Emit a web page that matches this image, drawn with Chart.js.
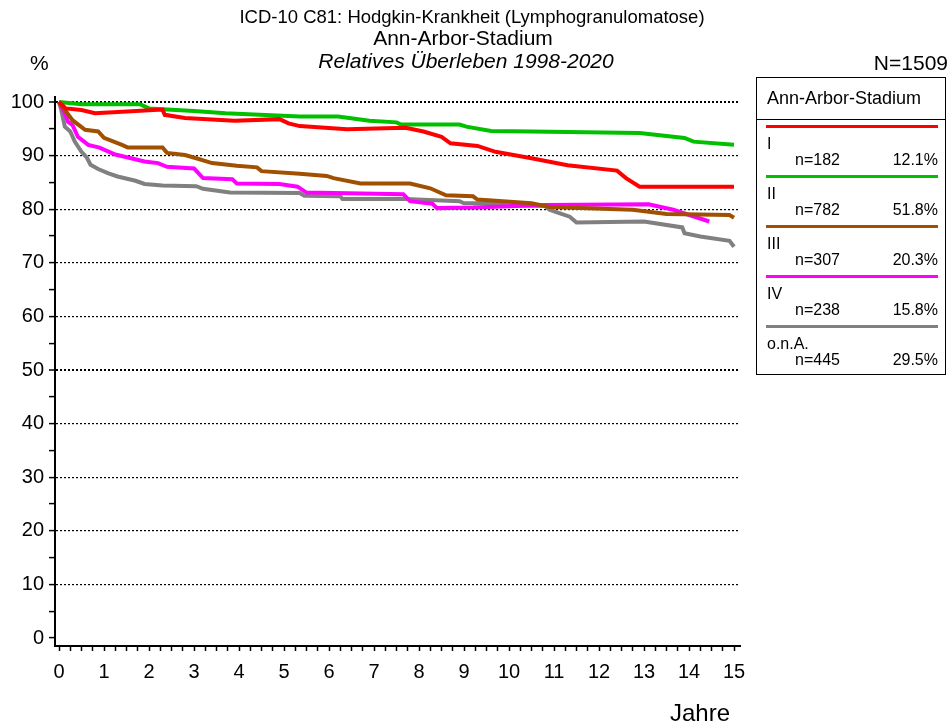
<!DOCTYPE html>
<html>
<head>
<meta charset="utf-8">
<script src="https://cdn.jsdelivr.net/npm/chart.js@4"></script>
<style>
  html, body { margin: 0; padding: 0; background: #fff; }
  body { width: 951px; height: 726px; position: relative; overflow: hidden;
         font-family: "Liberation Sans", Arial, sans-serif; color: #000; }
  #chart { position: absolute; left: 0; top: 0; }
  .txt { position: absolute; white-space: nowrap; line-height: 1; }
  .center { transform: translateX(-50%); }
  #legend { position: absolute; left: 756px; top: 77px; width: 190px; height: 298px;
            border: 1.5px solid #000; box-sizing: border-box; }
  #legend .head { position: absolute; left: 0; top: 0; width: 100%; height: 42px;
                  border-bottom: 1.5px solid #000; box-sizing: border-box; }
  #legend .head span { position: absolute; left: 10px; top: 10px; font-size: 18px; }
  .item { position: absolute; left: 0; width: 100%; height: 50px; }
  .item .bar { position: absolute; left: 9px; right: 7px; top: 0; height: 3px; }
  .item .name { position: absolute; left: 10px; top: 10px; font-size: 16px; }
  .item .n { position: absolute; left: 38px; top: 26px; font-size: 16px; }
  .item .pct { position: absolute; right: 7px; top: 26px; font-size: 16px; }
</style>
</head>
<body>
<canvas id="chart" width="951" height="726"></canvas>

<div class="txt center" style="left:472px; top:8px; font-size:18.5px;">ICD-10 C81: Hodgkin-Krankheit (Lymphogranulomatose)</div>
<div class="txt center" style="left:463px; top:27px; font-size:21px;">Ann-Arbor-Stadium</div>
<div class="txt center" style="left:466px; top:50px; font-size:21px; font-style:italic;">Relatives Überleben 1998-2020</div>
<div class="txt" style="left:30px; top:52px; font-size:21px;">%</div>
<div class="txt" style="right:3px; top:52px; font-size:21px;">N=1509</div>
<div class="txt" style="left:670px; top:701px; font-size:24px;">Jahre</div>

<div id="legend">
  <div class="head"><span>Ann-Arbor-Stadium</span></div>
</div>

<script>
// Werte (Jahre / relatives Überleben in %)
const stageNames = ['I', 'II', 'III', 'IV', 'o.n.A.'];
const stageN = [182, 782, 307, 238, 445];
const stagePct = ['12.1%', '51.8%', '20.3%', '15.8%', '29.5%'];
const stageColors = ['#ff0000', '#00c000', '#a05000', '#ff00ff', '#808080'];

const yearsI = [0, 0.15, 0.5, 0.8, 1.0, 2.3, 2.35, 2.8, 3.0, 3.9, 4.9, 5.1, 5.35, 6.4, 7.7, 8.1, 8.5, 8.7, 9.3, 9.7, 10.5, 11.3, 12.4, 12.6, 12.9, 15];
const survI  = [100, 98.8, 98.5, 97.9, 98.0, 98.6, 97.6, 97.0, 96.9, 96.5, 96.8, 96.0, 95.5, 94.9, 95.2, 94.5, 93.5, 92.3, 91.8, 90.7, 89.5, 88.2, 87.2, 85.8, 84.2, 84.2];

const yearsII = [0, 0.5, 1.8, 2.0, 2.4, 3.0, 3.7, 5.35, 6.2, 6.9, 7.5, 7.6, 8.9, 9.05, 9.6, 10.5, 12.9, 13.9, 14.1, 15];
const survII  = [100, 99.6, 99.6, 98.8, 98.6, 98.3, 97.9, 97.3, 97.3, 96.5, 96.2, 95.8, 95.8, 95.4, 94.6, 94.5, 94.2, 93.3, 92.6, 92.0];

const yearsIII = [0, 0.3, 0.58, 0.87, 1.0, 1.4, 1.53, 2.3, 2.4, 2.8, 3.05, 3.4, 3.95, 4.4, 4.5, 5.35, 5.95, 6.1, 6.7, 7.8, 8.25, 8.6, 9.2, 9.3, 10.5, 10.9, 12.75, 13.5, 14.9, 15];
const survIII  = [100, 96.6, 94.8, 94.5, 93.3, 92.0, 91.5, 91.5, 90.5, 90.1, 89.5, 88.6, 88.1, 87.8, 87.1, 86.6, 86.2, 85.8, 84.8, 84.8, 83.9, 82.6, 82.4, 81.8, 81.1, 80.4, 79.9, 79.1, 78.9, 78.4];

const yearsIV = [0, 0.13, 0.2, 0.3, 0.42, 0.65, 0.9, 1.25, 1.6, 1.9, 2.2, 2.4, 3.0, 3.2, 3.85, 3.95, 4.9, 5.3, 5.5, 7.65, 7.8, 8.3, 8.4, 9.2, 10.8, 13.1, 13.65, 14.45];
const survIV  = [100, 97.9, 96.3, 95.7, 93.5, 92.0, 91.5, 90.2, 89.5, 88.9, 88.6, 87.9, 87.6, 85.8, 85.6, 84.8, 84.7, 84.2, 83.1, 82.8, 81.5, 81.0, 80.2, 80.3, 80.8, 80.9, 79.9, 77.7];

const yearsNA = [0, 0.05, 0.13, 0.25, 0.35, 0.5, 0.62, 0.7, 0.87, 1.1, 1.3, 1.7, 1.9, 2.3, 3.05, 3.2, 3.8, 5.35, 5.45, 6.25, 6.3, 7.7, 8.9, 9.0, 9.85, 9.9, 10.8, 10.9, 11.1, 11.35, 11.5, 13.0, 13.85, 13.9, 14.25, 14.9, 15];
const survNA  = [100, 98.5, 95.4, 94.5, 92.6, 90.7, 89.6, 88.3, 87.5, 86.7, 86.1, 85.3, 84.7, 84.4, 84.3, 83.8, 83.1, 83.0, 82.5, 82.4, 81.9, 81.9, 81.5, 81.1, 81.1, 80.8, 80.6, 79.9, 79.3, 78.6, 77.5, 77.7, 76.6, 75.5, 74.9, 74.1, 73.0];

const xTicks = [];
for (let i = 0; i <= 60; i++) xTicks.push(i / 4);
const yTicks = [];
for (let i = 0; i <= 20; i++) yTicks.push(i * 5);

const allYears = [yearsI, yearsII, yearsIII, yearsIV, yearsNA];
const allSurv = [survI, survII, survIII, survIV, survNA];

// Legende (HTML)
const legend = document.getElementById('legend');
stageNames.forEach((name, i) => {
    const item = document.createElement('div');
    item.className = 'item';
    item.style.top = (47 + i * 50) + 'px';
    item.innerHTML =
        '<div class="bar" style="background:' + stageColors[i] + '"></div>' +
        '<span class="name">' + name + '</span>' +
        '<span class="n">n=' + stageN[i] + '</span>' +
        '<span class="pct">' + stagePct[i] + '</span>';
    legend.appendChild(item);
});

const tickFont = { family: '"Liberation Sans", Arial, sans-serif', size: 20 };

const datasets = stageNames.map((name, i) => ({
    label: name,
    data: allYears[i].map((t, k) => ({ x: t, y: allSurv[i][k] })),
    borderColor: stageColors[i],
    borderWidth: 4,
    pointRadius: 0,
    tension: 0,
    fill: false
}));

const ctx = document.getElementById('chart').getContext('2d');
new Chart(ctx, {
    type: 'line',
    data: { datasets: datasets },
    options: {
        responsive: false,
        animation: false,
        devicePixelRatio: 1,
        layout: { padding: { left: 0, top: 97, right: 211, bottom: 0 } },
        plugins: {
            legend: { display: false },
            title: { display: false },
            tooltip: { enabled: false }
        },
        scales: {
            x: {
                type: 'linear',
                min: -0.089,
                max: 15.133,
                afterFit: s => { s.height = 80; },
                afterBuildTicks: s => { s.ticks = xTicks.map(v => ({ value: v })); },
                ticks: {
                    autoSkip: false,
                    maxRotation: 0,
                    padding: 9,
                    color: '#000',
                    font: tickFont,
                    callback: v => Number.isInteger(v) ? String(v) : ''
                },
                grid: {
                    drawOnChartArea: false,
                    drawTicks: true,
                    tickLength: 5,
                    tickColor: '#000',
                    tickWidth: 1.5
                },
                border: { display: true, color: '#000', width: 2 }
            },
            y: {
                type: 'linear',
                min: -1.49,
                max: 100.93,
                afterFit: s => { s.width = 55; },
                afterBuildTicks: s => { s.ticks = yTicks.map(v => ({ value: v })); },
                ticks: {
                    autoSkip: false,
                    padding: 5,
                    color: '#000',
                    font: tickFont,
                    callback: v => v % 10 === 0 ? String(v) : ''
                },
                grid: {
                    drawTicks: true,
                    tickLength: 6,
                    tickColor: '#000',
                    tickWidth: 1.5,
                    tickBorderDash: [],
                    color: c => (c.tick && c.tick.value > 0 && c.tick.value % 10 === 0) ? '#000' : 'rgba(0,0,0,0)',
                    lineWidth: c => (c.tick && (c.tick.value === 50 || c.tick.value === 100)) ? 2 : 1.2
                },
                // in v4 steuert border.dash die Strichelung der Gitterlinien
                border: { display: true, color: '#000', width: 2, dash: [2, 2] }
            }
        }
    }
});
</script>
</body>
</html>
